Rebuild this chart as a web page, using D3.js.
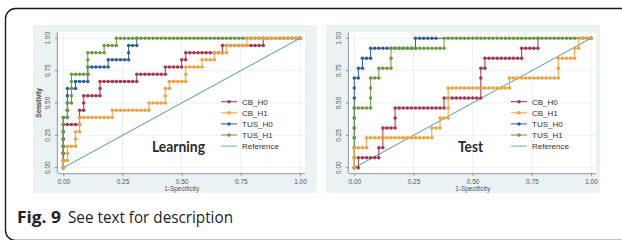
<!DOCTYPE html>
<html><head><meta charset="utf-8">
<script src="https://cdnjs.cloudflare.com/ajax/libs/d3/7.8.5/d3.min.js"></script>
<style>body{margin:0;background:#fff}svg{display:block}</style>
</head><body><svg id="c" width="622" height="240"></svg>
<script>
// ---- data ----
const tickValues = [0, 0.25, 0.5, 0.75, 1];
const tickLabels = ["0.00", "0.25", "0.50", "0.75", "1.00"];
const seriesNames = ["CB_H0", "CB_H1", "TUS_H0", "TUS_H1"];
const legendNames = ["CB_H0", "CB_H1", "TUS_H0", "TUS_H1", "Reference"];
const panelTitles = ["Learning", "Test"];
const xTitle = "1-Specificity";
const yTitle = "Sensitivity";
const captionBold = "Fig. 9";
const captionText = "See text for description";
// counts of [negatives, positives] per sample
const learnCounts = [58, 18];
const testCounts = [58, 13];
// ROC points as [false-positive count, true-positive count]
const learnCBH0 = [[0,0],[0,1],[0,2],[0,3],[0,4],[0,5],[0,6],[1,6],[2,6],[3,6],[4,6],[4,7],[4,8],[5,8],[5,9],[5,10],[6,10],[7,10],[8,10],[9,10],[9,11],[9,12],[10,12],[11,12],[12,12],[13,12],[14,12],[15,12],[16,12],[17,12],[18,12],[18,13],[19,13],[20,13],[21,13],[22,13],[23,13],[24,13],[25,13],[25,14],[26,14],[27,14],[28,14],[29,14],[29,15],[30,15],[30,16],[31,16],[32,16],[33,16],[34,16],[35,16],[36,16],[37,16],[38,16],[39,16],[39,17],[40,17],[41,17],[42,17],[43,17],[44,17],[45,17],[46,17],[47,17],[48,17],[49,17],[49,18],[58,18]];
const learnCBH1 = [[0,0],[0,1],[1,1],[1,2],[1,3],[2,3],[3,3],[3,4],[3,5],[4,5],[4,6],[4,7],[5,7],[6,7],[7,7],[8,7],[9,7],[10,7],[11,7],[12,7],[12,8],[13,8],[14,8],[15,8],[16,8],[17,8],[18,8],[19,8],[20,8],[21,8],[21,9],[22,9],[23,9],[24,9],[25,9],[25,10],[25,11],[26,11],[26,12],[27,12],[28,12],[29,12],[30,12],[30,13],[30,14],[31,14],[32,14],[33,14],[34,14],[34,15],[35,15],[36,15],[37,15],[37,16],[38,16],[39,16],[40,16],[40,17],[41,17],[42,17],[43,17],[44,17],[45,17],[45,18],[46,18],[47,18],[48,18],[49,18],[50,18],[51,18],[52,18],[53,18],[54,18],[55,18],[56,18],[57,18],[58,18]];
const learnTUSH0 = [[0,0],[0,1],[0,2],[0,3],[0,4],[0,5],[0,6],[0,7],[1,7],[1,8],[1,9],[1,10],[1,11],[2,11],[3,11],[3,12],[4,12],[5,12],[6,12],[6,13],[6,14],[7,14],[8,14],[9,14],[10,14],[11,14],[11,15],[12,15],[13,15],[14,15],[15,15],[16,15],[16,16],[16,17],[17,17],[18,17],[18,18],[58,18]];
const learnTUSH1 = [[0,0],[0,1],[0,2],[0,3],[0,4],[0,5],[0,6],[0,7],[1,7],[1,8],[1,9],[2,9],[2,10],[2,11],[2,12],[2,13],[3,13],[4,13],[5,13],[6,13],[6,14],[6,15],[6,16],[7,16],[8,16],[9,16],[10,16],[10,17],[11,17],[12,17],[13,17],[13,18],[14,18],[15,18],[16,18],[17,18],[18,18],[19,18],[20,18],[21,18],[22,18],[23,18],[24,18],[25,18],[26,18],[27,18],[28,18],[29,18],[30,18],[31,18],[32,18],[33,18],[34,18],[35,18],[36,18],[37,18],[38,18],[39,18],[40,18],[41,18],[42,18],[43,18],[44,18],[45,18],[46,18],[47,18],[48,18],[49,18],[50,18],[51,18],[52,18],[53,18],[54,18],[55,18],[56,18],[57,18],[58,18]];
const testCBH0 = [[0,0],[1,0],[1,1],[2,1],[3,1],[4,1],[5,1],[6,1],[6,2],[7,2],[7,3],[7,4],[8,4],[9,4],[10,4],[10,5],[10,6],[11,6],[12,6],[13,6],[14,6],[15,6],[16,6],[17,6],[18,6],[19,6],[20,6],[21,6],[22,6],[22,7],[23,7],[24,7],[25,7],[26,7],[27,7],[28,7],[29,7],[30,7],[31,7],[31,8],[31,9],[31,10],[32,10],[32,11],[33,11],[34,11],[35,11],[36,11],[37,11],[38,11],[39,11],[40,11],[41,11],[41,12],[42,12],[43,12],[44,12],[45,12],[45,13],[58,13]];
const testCBH1 = [[0,0],[0,1],[0,2],[1,2],[2,2],[3,2],[3,3],[4,3],[5,3],[6,3],[7,3],[8,3],[9,3],[10,3],[11,3],[12,3],[13,3],[14,3],[15,3],[16,3],[17,3],[18,3],[19,3],[19,4],[20,4],[21,4],[21,5],[22,5],[23,5],[23,6],[23,7],[23,8],[24,8],[25,8],[26,8],[27,8],[28,8],[29,8],[30,8],[31,8],[32,8],[33,8],[34,8],[35,8],[36,8],[37,8],[38,8],[38,9],[39,9],[40,9],[41,9],[42,9],[43,9],[44,9],[45,9],[46,9],[47,9],[48,9],[49,9],[50,9],[50,10],[50,11],[51,11],[52,11],[53,11],[54,11],[54,12],[55,12],[55,13],[56,13],[57,13],[58,13]];
const testTUSH0 = [[0,0],[0,1],[0,2],[0,3],[0,4],[0,5],[0,6],[0,7],[0,8],[0,9],[1,9],[1,10],[2,10],[2,11],[3,11],[4,11],[4,12],[5,12],[6,12],[7,12],[8,12],[9,12],[10,12],[11,12],[12,12],[13,12],[14,12],[15,12],[15,13],[16,13],[17,13],[18,13],[19,13],[20,13],[58,13]];
const testTUSH1 = [[0,0],[0,1],[0,2],[0,3],[0,4],[0,5],[0,6],[1,6],[2,6],[3,6],[4,6],[4,7],[4,8],[4,9],[5,9],[6,9],[6,10],[7,10],[8,10],[9,10],[9,11],[9,12],[10,12],[11,12],[12,12],[13,12],[14,12],[15,12],[16,12],[17,12],[18,12],[19,12],[20,12],[21,12],[22,12],[22,13],[23,13],[24,13],[25,13],[26,13],[27,13],[28,13],[29,13],[30,13],[31,13],[32,13],[33,13],[34,13],[35,13],[36,13],[37,13],[38,13],[39,13],[40,13],[41,13],[42,13],[43,13],[44,13],[45,13],[46,13],[47,13],[48,13],[49,13],[50,13],[51,13],[52,13],[53,13],[54,13],[55,13],[56,13],[57,13],[58,13]];
const referenceLine = [[0,0],[1,1]];

// ---- styles ----
const colors = {CB_H0:"#a8344e", CB_H1:"#f2a03a", TUS_H0:"#2b5e9c", TUS_H1:"#6b9a3c", Reference:"#74ada4"};
const drawOrder = ["CB_H0", "TUS_H0", "TUS_H1", "CB_H1"];

const panels = [
  {title: panelTitles[0], counts: learnCounts,
   series: {CB_H0: learnCBH0, CB_H1: learnCBH1, TUS_H0: learnTUSH0, TUS_H1: learnTUSH1},
   bg: [33, 25, 284, 168], x0: 63.3, x1: 300, legX: 221, titleX: 152, titleW: 53},
  {title: panelTitles[1], counts: testCounts,
   series: {CB_H0: testCBH0, CB_H1: testCBH1, TUS_H0: testTUSH0, TUS_H1: testTUSH1},
   bg: [326, 25, 274, 168], x0: 354.3, x1: 591, legX: 511, titleX: 458, titleW: 25}
];
const yTop = 38.3, yBot = 167.7;

const svg = d3.select("#c");
const axisFont = "'Liberation Sans', Arial, sans-serif";

panels.forEach(p => {
  const g = svg.append("g");
  g.append("rect").attr("x", p.bg[0]).attr("y", p.bg[1]).attr("width", p.bg[2]).attr("height", p.bg[3]).attr("fill", "#eaf2f4");
  const x = d3.scaleLinear().domain([0, 1]).range([p.x0, p.x1]);
  const y = d3.scaleLinear().domain([0, 1]).range([yBot, yTop]);
  const left = p.x0 - 5.5, right = p.x1 + 5, top = yTop - 6, bottom = yBot + 5.5;
  g.append("rect").attr("x", left).attr("y", top).attr("width", right - left).attr("height", bottom - top).attr("fill", "#ffffff");
  // grid
  g.selectAll("line.gy").data(tickValues).join("line")
    .attr("x1", left).attr("x2", right).attr("y1", d => y(d)).attr("y2", d => y(d))
    .attr("stroke", "#e6eef0").attr("stroke-width", 0.8);
  g.selectAll("line.gx").data(tickValues).join("line").attr("class","gx")
    .attr("y1", top).attr("y2", bottom).attr("x1", d => x(d)).attr("x2", d => x(d))
    .attr("stroke", "#e6eef0").attr("stroke-width", 0.8);
  // axes
  const xa = d3.axisBottom(x).tickValues(tickValues).tickFormat((d, i) => tickLabels[i]).tickSize(3).tickPadding(3);
  const ya = d3.axisLeft(y).tickValues(tickValues).tickFormat((d, i) => tickLabels[i]).tickSize(3).tickPadding(2);
  const gx = g.append("g").attr("transform", `translate(0,${bottom})`).call(xa);
  gx.select(".domain").attr("d", `M${left},0.5H${right}`).attr("stroke", "#8a9aa0");
  gx.selectAll(".tick line").attr("stroke", "#8a9aa0");
  gx.selectAll("text").attr("font-family", axisFont).attr("font-size", 6.5).attr("fill", "#555");
  const gy = g.append("g").attr("transform", `translate(${left},0)`).call(ya);
  gy.select(".domain").attr("d", `M-0.5,${top}V${bottom}`).attr("stroke", "#8a9aa0");
  gy.selectAll(".tick line").attr("stroke", "#8a9aa0");
  gy.selectAll("text").attr("font-family", axisFont).attr("font-size", 6.5).attr("fill", "#555")
    .attr("text-anchor", "middle").attr("dy", 0)
    .attr("transform", "rotate(-90)")
    .each(function(d) { d3.select(this).attr("x", -y(d)).attr("y", -7.5); });
  gy.selectAll(".tick").attr("transform", "translate(0,0)");
  gy.selectAll(".tick line").attr("y1", d => y(d)).attr("y2", d => y(d)).attr("x2", -3);
  g.append("text").attr("x", (p.x0 + p.x1) / 2).attr("y", 191).attr("text-anchor", "middle")
    .attr("font-family", axisFont).attr("font-size", 6.5).attr("fill", "#555").text(xTitle);
  g.append("text").attr("transform", `translate(41,${(yTop + yBot) / 2}) rotate(-90)`).attr("text-anchor", "middle")
    .attr("font-family", axisFont).attr("font-size", 6.5).attr("fill", "#555").text(yTitle);

  // reference line
  g.append("path").datum(referenceLine)
    .attr("d", d3.line().x(d => x(d[0])).y(d => y(d[1])))
    .attr("fill", "none").attr("stroke", colors.Reference).attr("stroke-width", 1.1);

  // series
  const [nNeg, nPos] = p.counts;
  const line = d3.line().x(d => x(d[0] / nNeg)).y(d => y(d[1] / nPos));
  drawOrder.forEach(name => {
    const data = p.series[name];
    g.append("path").datum(data).attr("d", line).attr("fill", "none")
      .attr("stroke", colors[name]).attr("stroke-width", 1);
    g.append("g").selectAll("circle").data(data).join("circle")
      .attr("cx", d => x(d[0] / nNeg)).attr("cy", d => y(d[1] / nPos)).attr("r", 1.75)
      .attr("fill", colors[name]);
  });

  // legend
  legendNames.forEach((name, i) => {
    const ly = 101.7 + i * 11.1;
    g.append("line").attr("x1", p.legX).attr("x2", p.legX + 16).attr("y1", ly).attr("y2", ly)
      .attr("stroke", colors[name]).attr("stroke-width", 1);
    if (name !== "Reference") {
      g.append("circle").attr("cx", p.legX + 8).attr("cy", ly).attr("r", 1.75).attr("fill", colors[name]);
    }
    g.append("text").attr("x", p.legX + 21).attr("y", ly + 3).attr("font-family", axisFont)
      .attr("font-size", 8).attr("fill", "#333").text(name);
  });

  // panel title
  g.append("text").attr("x", p.titleX).attr("y", 151.5).attr("font-family", "Lato, 'Open Sans', sans-serif")
    .attr("font-weight", "bold").attr("font-size", 15).attr("fill", "#2a2a2a")
    .attr("textLength", p.titleW).attr("lengthAdjust", "spacingAndGlyphs").text(p.title);
});

// frame
svg.append("rect").attr("x", 5.5).attr("y", 8.5).attr("width", 700).attr("height", 232)
  .attr("rx", 10).attr("fill", "none").attr("stroke", "#1a1a1a").attr("stroke-width", 1.4);

// caption
svg.append("text").attr("x", 17).attr("y", 223).attr("font-family", "'Open Sans', 'Noto Sans', sans-serif")
  .attr("font-size", 16.5).attr("font-weight", "bold").attr("fill", "#222")
  .attr("textLength", 44).attr("lengthAdjust", "spacingAndGlyphs").text(captionBold);
svg.append("text").attr("x", 68).attr("y", 223).attr("font-family", "'Open Sans', 'Noto Sans', sans-serif")
  .attr("font-size", 16.5).attr("fill", "#222")
  .attr("textLength", 165).attr("lengthAdjust", "spacingAndGlyphs").text(captionText);
</script>
</body></html>
